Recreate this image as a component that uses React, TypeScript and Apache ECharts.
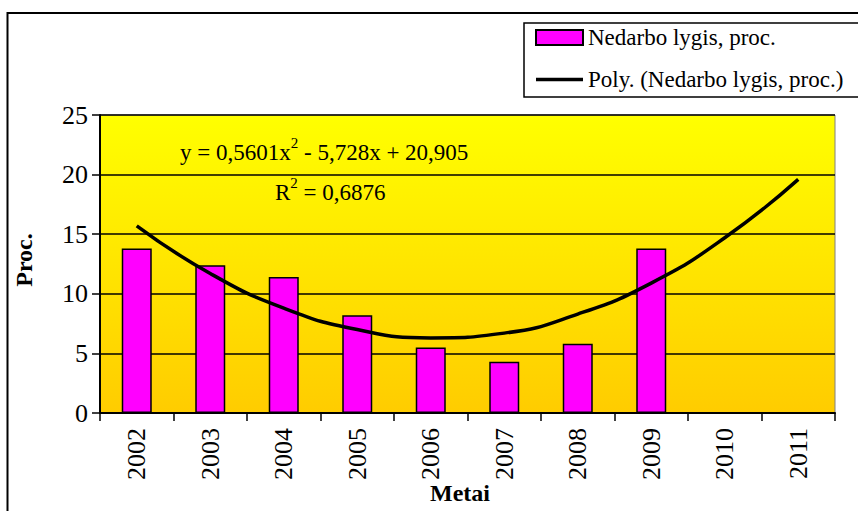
import React, { useEffect, useRef } from "react";
import * as echarts from "echarts";

const categories = ["2002", "2003", "2004", "2005", "2006", "2007", "2008", "2009", "2010", "2011"];
const barValues: (number | null)[] = [13.8, 12.4, 11.4, 8.2, 5.5, 4.3, 5.8, 13.8, null, null];
const trendValues = [15.7, 11.7, 8.8, 7.0, 6.3, 6.7, 8.3, 10.9, 14.7, 19.6];
const yTicks = { min: 0, max: 25, interval: 5 };
const barName = "Nedarbo lygis, proc.";
const lineName = "Poly. (Nedarbo lygis, proc.)";
const equationText = "{b|y = 0,5601x}{s|2}{b| - 5,728x + 20,905}";
const r2Text = "{b|R}{s|2}{b| = 0,6876}";

const FONT = "Liberation Serif";

export default function App() {
  const ref = useRef<HTMLDivElement>(null);
  useEffect(() => {
    if (!ref.current) return;
    const chart = echarts.init(ref.current, undefined, { renderer: "svg" });
    const rich = {
      b: { fontSize: 23, fontFamily: FONT, lineHeight: 34, verticalAlign: "middle", fill: "#000", color: "#000" },
      s: { fontSize: 15, fontFamily: FONT, lineHeight: 34, verticalAlign: "top", fill: "#000", color: "#000" },
    };
    chart.setOption({
      animation: false,
      backgroundColor: "#fff",
      textStyle: { fontFamily: FONT },
      graphic: [
        {
          type: "rect",
          z: -10,
          shape: { x: 7.5, y: 13, width: 900, height: 600 },
          style: { fill: "#fff", stroke: "#000", lineWidth: 2 },
        },
        {
          type: "rect",
          z: 5,
          shape: { x: 524, y: 23, width: 400, height: 74 },
          style: { fill: "#fff", stroke: "#000", lineWidth: 1.5 },
        },
        {
          type: "text",
          z: 20,
          x: 180,
          y: 135,
          style: { text: equationText, rich, fill: "#000", fontFamily: FONT, fontSize: 23 },
        },
        {
          type: "text",
          z: 20,
          x: 275,
          y: 175,
          style: { text: r2Text, rich, fill: "#000", fontFamily: FONT, fontSize: 23 },
        },
      ],
      legend: {
        z: 10,
        orient: "vertical",
        left: 535,
        top: 26,
        itemWidth: 47,
        itemHeight: 15,
        itemGap: 19,
        padding: 0,
        symbolKeepAspect: true,
        textStyle: { fontFamily: FONT, fontSize: 23, color: "#000" },
        data: [
          { name: barName, icon: "rect" },
          { name: lineName, icon: "path://M0,0 L47,0 L47,3.5 L0,3.5 Z", itemStyle: { color: "#000", borderWidth: 0 } },
        ],
      },
      grid: {
        left: 100,
        top: 115,
        right: 23,
        bottom: 98,
        outerBoundsMode: "none",
        containLabel: false,
        show: true,
        borderColor: "#808080",
        borderWidth: 1,
        backgroundColor: new echarts.graphic.LinearGradient(0, 0, 0, 1, [
          { offset: 0, color: "#FFFF00" },
          { offset: 1, color: "#FFCC00" },
        ]),
      },
      xAxis: {
        type: "category",
        data: categories,
        boundaryGap: true,
        name: "Metai",
        nameLocation: "middle",
        nameGap: 68,
        nameMoveOverlap: false,
        nameTextStyle: { fontFamily: FONT, fontSize: 24, fontWeight: "bold", color: "#000", padding: [0, 15, 0, 0] },
        axisLine: { lineStyle: { color: "#000", width: 2 } },
        axisTick: { show: true, length: 8, lineStyle: { color: "#000", width: 1.5 } },
        axisLabel: { rotate: 90, margin: 15, fontFamily: FONT, fontSize: 26, color: "#000" },
      },
      yAxis: {
        type: "value",
        min: yTicks.min,
        max: yTicks.max,
        interval: yTicks.interval,
        name: "Proc.",
        nameLocation: "middle",
        nameGap: 64,
        nameMoveOverlap: false,
        nameTextStyle: { fontFamily: FONT, fontSize: 24, fontWeight: "bold", color: "#000", padding: [0, 0, 0, 8] },
        axisLine: { show: true, lineStyle: { color: "#000", width: 2 } },
        axisTick: { show: true, length: 8, lineStyle: { color: "#000", width: 1.5 } },
        axisLabel: { margin: 12, fontFamily: FONT, fontSize: 26, color: "#000" },
        splitLine: { show: true, lineStyle: { color: "#000", width: 1.5 } },
      },
      series: [
        {
          name: barName,
          type: "bar",
          data: barValues,
          barWidth: 30,
          itemStyle: { color: "#FF00FF", borderColor: "#000", borderWidth: 1.5 },
          z: 2,
        },
        {
          name: lineName,
          type: "line",
          data: trendValues,
          smooth: true,
          symbol: "none",
          showSymbol: false,
          lineStyle: { color: "#000", width: 3.5 },
          itemStyle: { color: "#000" },
          z: 3,
        },
      ],
    });
    return () => chart.dispose();
  }, []);
  return <div ref={ref} style={{ position: "fixed", left: 0, top: 0, width: 858, height: 511 }} />;
}
